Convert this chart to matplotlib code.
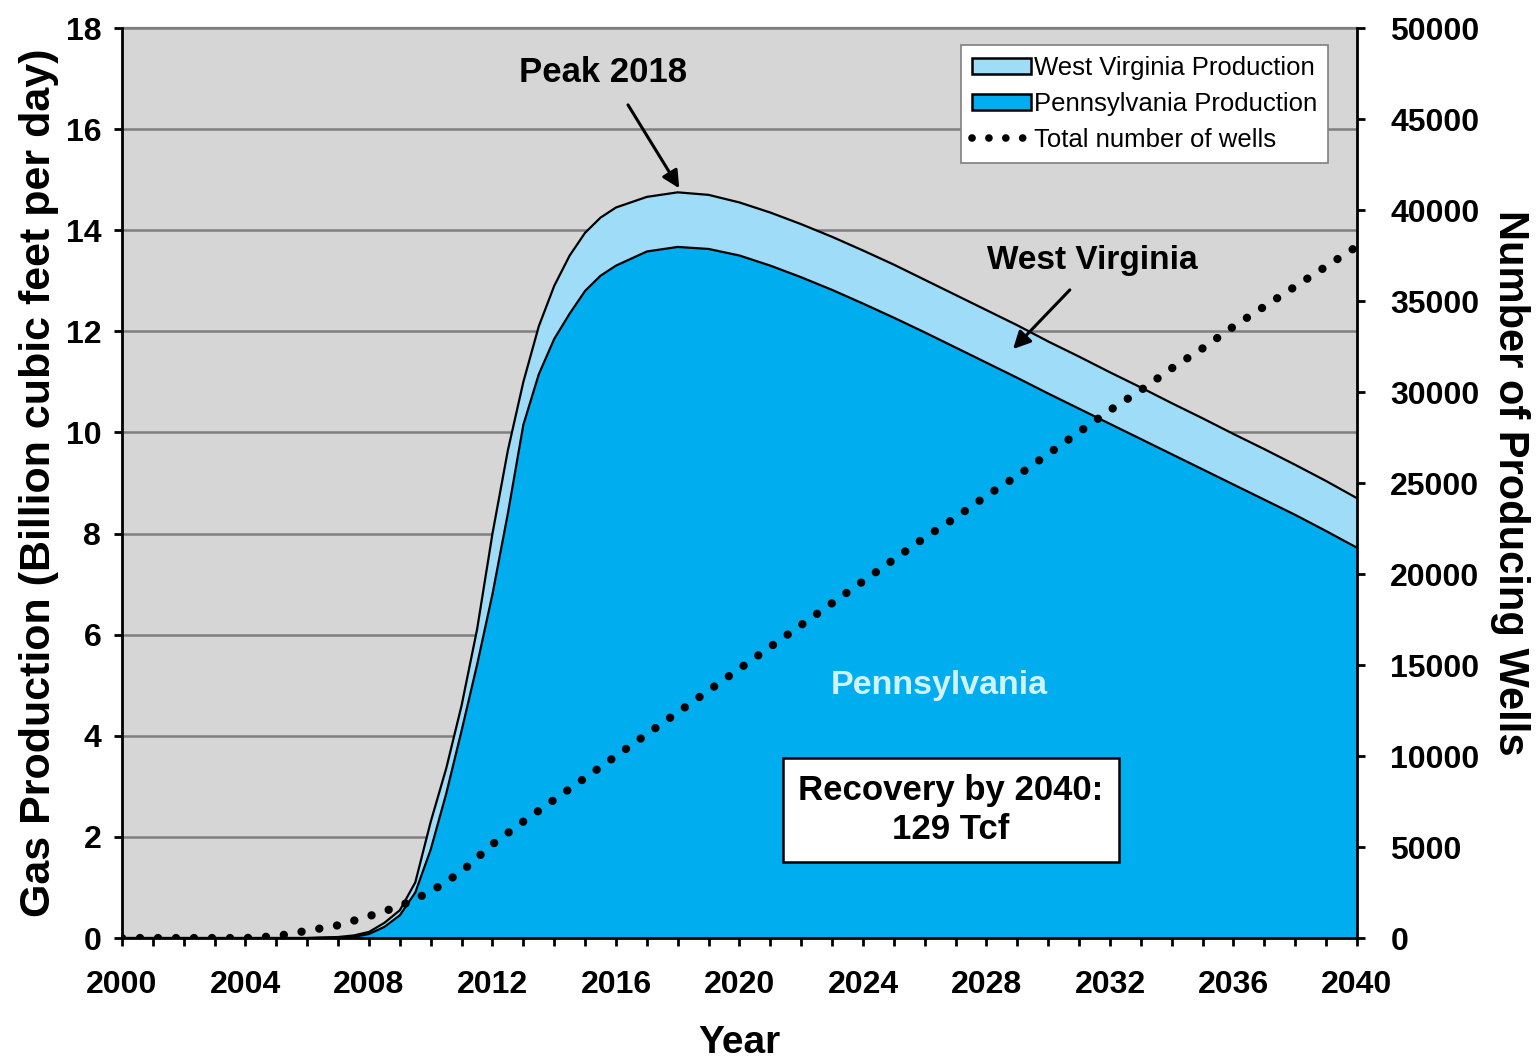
import numpy as np
import matplotlib.pyplot as plt
from matplotlib.patches import Patch
from matplotlib.lines import Line2D

plt.rcParams['font.family'] = ['Liberation Sans', 'DejaVu Sans']

# production read at yearly steps, half-year steps through the steep part
prod_years = [2000, 2001, 2002, 2003, 2004, 2005, 2006, 2007, 2007.5,
              2008, 2008.5, 2009, 2009.5, 2010, 2010.5, 2011, 2011.5,
              2012, 2012.5, 2013, 2013.5, 2014, 2014.5, 2015, 2015.5,
              2016, 2017, 2018, 2019, 2020, 2021, 2022, 2023, 2024,
              2025, 2026, 2027, 2028, 2029, 2030, 2031, 2032, 2033,
              2034, 2035, 2036, 2037, 2038, 2039, 2040]

# Pennsylvania production (Bcf/d)
pa_prod = [0, 0, 0, 0, 0, 0, 0, 0.01, 0.02,
           0.08, 0.22, 0.45, 0.9, 1.75, 2.85, 4.1, 5.4,
           6.8, 8.4, 10.15, 11.15, 11.85, 12.35, 12.8, 13.1,
           13.3, 13.58, 13.67, 13.63, 13.5, 13.3, 13.07, 12.82, 12.55,
           12.27, 11.98, 11.68, 11.38, 11.08, 10.77, 10.47, 10.17, 9.87,
           9.57, 9.27, 8.97, 8.67, 8.37, 8.05, 7.72]

# total production, PA + WV (Bcf/d)
total_prod = [0, 0, 0, 0, 0, 0, 0, 0.02, 0.05,
              0.12, 0.3, 0.55, 1.1, 2.3, 3.35, 4.6, 6.1,
              8.0, 9.65, 11.0, 12.1, 12.9, 13.5, 13.95, 14.25,
              14.45, 14.66, 14.75, 14.7, 14.55, 14.35, 14.12, 13.87, 13.6,
              13.32, 13.02, 12.72, 12.42, 12.12, 11.8, 11.5, 11.19, 10.89,
              10.58, 10.28, 9.97, 9.67, 9.36, 9.04, 8.7]

well_years = list(range(2000, 2041))
# total number of producing wells
wells = [0, 0, 0, 0, 0, 100, 400, 700, 1200, 1750,
         2550, 3650, 5150, 6400, 7600, 8800, 10000, 11200, 12400, 13600,
         14800, 16000, 17200, 18400, 19600, 20800, 22000, 23100, 24300, 25400,
         26600, 27800, 29000, 30100, 31300, 32400, 33600, 34700, 35800, 36900,
         38000]

x = np.array(prod_years)
pa = np.array(pa_prod)
total = np.array(total_prod)

fig = plt.figure(figsize=(15.38, 10.58), dpi=100)
ax = fig.add_axes([0.0793, 0.1134, 0.8030, 0.8601])
ax.set_facecolor('#D6D6D6')

pa_col = '#00AEEF'
wv_col = '#9EDCF7'

ax.fill_between(x, 0, pa, color=pa_col, lw=0, zorder=2)
ax.fill_between(x, pa, total, color=wv_col, lw=0, zorder=2)
ax.plot(x, pa, color='black', lw=1.6, zorder=3)
ax.plot(x, total, color='black', lw=1.6, zorder=3)

ax.set_xlim(2000, 2040)
ax.set_ylim(0, 18)
ax.set_yticks(range(0, 19, 2))
ax.set_xticks(range(2000, 2041, 4))
ax.set_xticks(range(2000, 2041), minor=True)
ax.grid(axis='y', color='#7F7F7F', lw=1.8, zorder=1)
ax.set_axisbelow(True)

for s in ['left', 'bottom', 'right']:
    ax.spines[s].set_linewidth(2)
    ax.spines[s].set_zorder(5)
ax.spines['top'].set_color('#7F7F7F')
ax.spines['top'].set_linewidth(1.6)

ax.tick_params(axis='both', which='both', direction='out', length=6, width=2,
               labelsize=23)
ax.tick_params(axis='x', which='both', pad=17)
ax.tick_params(axis='y', pad=9)
for lab in ax.get_xticklabels() + ax.get_yticklabels():
    lab.set_fontweight('bold')

ax.set_xlabel('Year', fontsize=28, fontweight='bold', labelpad=18)
ax.set_ylabel('Gas Production (Billion cubic feet per day)', fontsize=31,
              fontweight='bold', labelpad=5)

ax2 = ax.twinx()
ax2.set_ylim(0, 50000)
ax2.set_yticks(range(0, 50001, 5000))
ax2.tick_params(axis='y', direction='out', length=6, width=2, labelsize=23, pad=18)
for lab in ax2.get_yticklabels():
    lab.set_fontweight('bold')
for s in ax2.spines.values():
    s.set_visible(False)
ax2.plot(well_years, wells, color='black', lw=6, linestyle=(0, (0.01, 2.15)),
         dash_capstyle='round', zorder=4)
ax2.set_ylabel('Number of Producing Wells', fontsize=30, fontweight='bold',
               rotation=-90, labelpad=36)

handles = [Patch(facecolor=wv_col, edgecolor='black', lw=1.8),
           Patch(facecolor=pa_col, edgecolor='black', lw=1.8),
           Line2D([], [], color='black', lw=5.5, linestyle=(0, (0.01, 2.2)),
                  dash_capstyle='round')]
leg = ax2.legend(handles, ['West Virginia Production', 'Pennsylvania Production',
                           'Total number of wells'],
                 loc='upper right', bbox_to_anchor=(0.9765, 0.981),
                 fontsize=18.5, fancybox=False, framealpha=1,
                 edgecolor='#808080', handlelength=2.3, handleheight=0.55,
                 handletextpad=0.1, labelspacing=0.46, borderpad=0.42,
                 borderaxespad=0)
leg.get_frame().set_linewidth(1.2)

arrow = dict(arrowstyle='-|>', color='black', lw=2.2, mutation_scale=26,
             shrinkA=0, shrinkB=0)
ax.text(2015.58, 17.13, 'Peak 2018', fontsize=25, fontweight='bold',
        ha='center', va='center', zorder=6)
ax.annotate('', xy=(2018.05, 14.83), xytext=(2016.39, 16.48),
            arrowprops=arrow, zorder=6)
ax.text(2031.42, 13.41, 'West Virginia', fontsize=24, fontweight='bold',
        ha='center', va='center', zorder=6)
ax.annotate('', xy=(2028.86, 11.65), xytext=(2030.7, 12.82),
            arrowprops=arrow, zorder=6)
ax.text(2026.46, 5.0, 'Pennsylvania', fontsize=24.5, fontweight='bold',
        color='#CFF2FD', ha='center', va='center', zorder=6)
ax.text(2026.85, 2.53, 'Recovery by 2040:\n129 Tcf', fontsize=25,
        fontweight='bold', ha='center', va='center', linespacing=1.25,
        bbox=dict(boxstyle='square,pad=0.45', facecolor='white',
                  edgecolor='black', lw=1.8), zorder=6)

fig.savefig('out.png', dpi=100)
